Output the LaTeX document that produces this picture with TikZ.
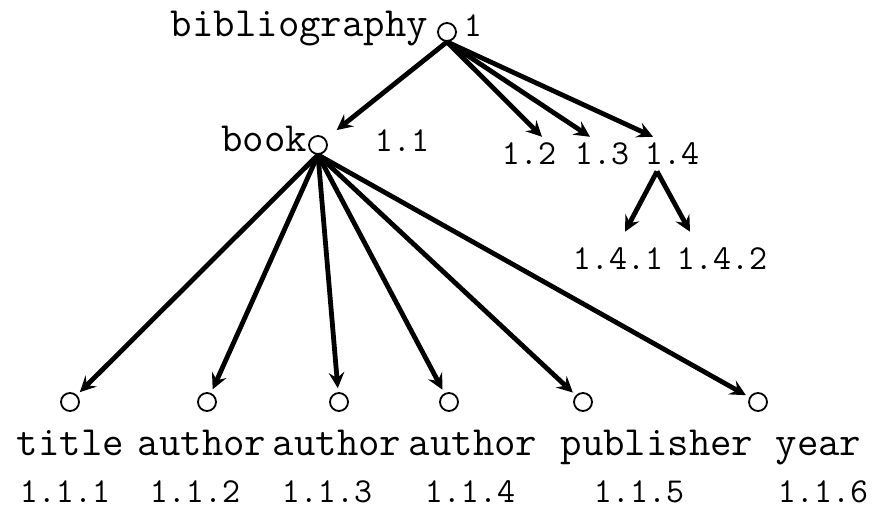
\documentclass[tikz,border=0pt]{standalone}
\usepackage{tikz}
\usetikzlibrary{arrows}
\tikzset{
  vertex/.style={circle, draw, line width=0.9pt, inner sep=0pt, minimum size=9pt, fill=white},
  word/.style={font=\fontsize{20.8}{25}\selectfont\ttfamily, inner sep=0pt, anchor=base},
  num/.style={font=\fontsize{17.5}{21}\selectfont\ttfamily, inner xsep=0pt, inner ysep=3pt, anchor=base},
  tree/.style={-stealth, line width=2.4pt},
}
\begin{document}
\begin{tikzpicture}[x=0.5pt, y=-0.5pt]
			\useasboundingbox (0,0) rectangle (881,507);
			% top levels
			\node[word] (wbib) at (299.5,37) {bibliography};
			\node[vertex] (root) at (447,32) {};
			\node[num, inner ysep=0pt] (n1) at (473,37) {1};
			\node[word] (wbook) at (264,152) {book};
			\node[vertex] (book) at (318,145) {};
			\node[num, inner ysep=0pt] (n11) at (402,152) {1.1};
			\node[num] (n12) at (529,165) {1.2};
			\node[num] (n13) at (602,165) {1.3};
			\node[num] (n14) at (672,165) {1.4};
			\node[num] (n141) at (618,270) {1.4.1};
			\node[num] (n142) at (722,270) {1.4.2};
			% leaves
			\node[vertex] (l1) at (70,402) {};
			\node[vertex] (l2) at (207,402) {};
			\node[vertex] (l3) at (339,402) {};
			\node[vertex] (l4) at (449,402) {};
			\node[vertex] (l5) at (583,402) {};
			\node[vertex] (l6) at (758,402) {};
			\node[word] (wtitle) at (70.5,455) {title};
			\node[word] (wauthA) at (202,455) {author};
			\node[word] (wauthB) at (337,455) {author};
			\node[word] (wauthC) at (473,455) {author};
			\node[word] (wpubl) at (657,455) {publisher};
			\node[word] (wyear) at (818.5,455) {year};
			\node[num, inner ysep=0pt] (n111) at (65,502) {1.1.1};
			\node[num, inner ysep=0pt] (n112) at (195,502) {1.1.2};
			\node[num, inner ysep=0pt] (n113) at (327,502) {1.1.3};
			\node[num, inner ysep=0pt] (n114) at (470,502) {1.1.4};
			\node[num, inner ysep=0pt] (n115) at (639,502) {1.1.5};
			\node[num, inner ysep=0pt] (n116) at (823,502) {1.1.6};
			% edges
			\draw[tree, shorten >=7pt] (root.south) -- (book);
			\draw[tree] (root.south) -- ([xshift=6.5pt]n12.north);
			\draw[tree] (root.south) -- ([xshift=-6pt]n13.north);
			\draw[tree] (root.south) -- ([xshift=-9.5pt]n14.north);
			\draw[tree] ([xshift=-7.5pt]n14.south) -- ([xshift=3.5pt,yshift=5pt]n141.north);
			\draw[tree] ([xshift=-7.5pt]n14.south) -- ([xshift=-16pt,yshift=5pt]n142.north);
			\foreach \l in {l1,l2,l3,l4,l5,l6}
				\draw[tree, shorten >=2pt] (book.south) -- (\l);
		\end{tikzpicture}
\end{document}
